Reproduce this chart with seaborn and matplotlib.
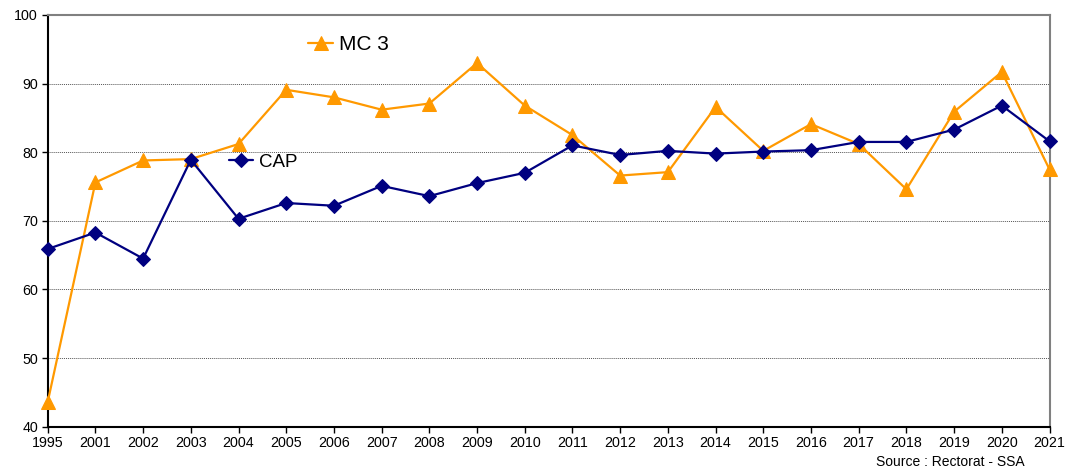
import numpy as np
import pandas as pd
import matplotlib
matplotlib.use('Agg')
import matplotlib.pyplot as plt
import seaborn as sns

# data
years = ['1995', '2001', '2002', '2003', '2004', '2005', '2006', '2007', '2008', '2009', '2010',
         '2011', '2012', '2013', '2014', '2015', '2016', '2017', '2018', '2019', '2020', '2021']
cap = [65.9, 68.3, 64.5, 78.9, 70.3, 72.6, 72.2, 75.1, 73.6, 75.5, 77.0,
       81.0, 79.6, 80.2, 79.8, 80.1, 80.3, 81.5, 81.5, 83.3, 86.8, 81.6]
mc3 = [43.6, 75.6, 78.8, 79.0, 81.2, 89.1, 88.0, 86.2, 87.1, 93.0, 86.8,
       82.5, 76.6, 77.1, 86.6, 80.2, 84.1, 81.2, 74.6, 85.9, 91.7, 77.5]
yticks = [40, 50, 60, 70, 80, 90, 100]

df = pd.DataFrame({'pos': np.arange(len(years)), 'CAP': cap, 'MC 3': mc3})

sns.set_style('white')
plt.rcParams['font.family'] = ['Liberation Sans', 'DejaVu Sans']
plt.rcParams['text.color'] = 'black'

fig = plt.figure(figsize=(10.65, 4.68), dpi=100)
ax = fig.add_axes([47.7 / 1065, 1 - 426.7 / 468, (1049.5 - 47.7) / 1065, (426.7 - 15) / 468])

sns.lineplot(data=df, x='pos', y='MC 3', ax=ax, color='#FF9900', lw=1.6,
             marker='^', markersize=10.5, markeredgecolor='#FF9900', label='MC 3', clip_on=False)
sns.lineplot(data=df, x='pos', y='CAP', ax=ax, color='#000080', lw=1.6,
             marker='D', markersize=7.5, markeredgecolor='#000080', label='CAP', clip_on=False)
line_mc, line_cap = ax.get_lines()[0], ax.get_lines()[1]
line_mc.set_zorder(3)
line_cap.set_zorder(4)

ax.set_xlim(0, len(years) - 1)
ax.set_ylim(40, 100)
ax.set_xticks(df['pos'])
ax.set_xticklabels(years)
ax.set_yticks(yticks)
ax.set_xlabel('')
ax.set_ylabel('')
ax.tick_params(axis='both', labelsize=10.3, length=4, width=1, direction='out',
               bottom=True, left=True, colors='black', labelcolor='black', pad=3)

for y in yticks[1:-1]:
    ax.axhline(y, color='#555555', lw=0.7, ls=(0, (1, 1)), zorder=0)

for side in ['left', 'bottom']:
    ax.spines[side].set_color('black')
    ax.spines[side].set_linewidth(1.5)
for side in ['top', 'right']:
    ax.spines[side].set_color('#808080')
    ax.spines[side].set_linewidth(1.5)

# series labels placed inside the plot, as in the original
ax.get_legend().remove()
leg1 = ax.legend([line_mc], ['MC 3'], loc='center left', frameon=False,
                 bbox_to_anchor=(308 / 1065, 1 - 45 / 468), bbox_transform=fig.transFigure,
                 fontsize=15, handlelength=1.2, handletextpad=0.3, borderpad=0, borderaxespad=0,
                 labelcolor='black')
ax.add_artist(leg1)
ax.legend([line_cap], ['CAP'], loc='center left', frameon=False,
          bbox_to_anchor=(229 / 1065, 1 - 162 / 468), bbox_transform=fig.transFigure,
          fontsize=13.5, handlelength=1.3, handletextpad=0.3, borderpad=0, borderaxespad=0,
          labelcolor='black')

fig.text(1025 / 1065, 1 - 462 / 468, 'Source : Rectorat - SSA', ha='right', va='center',
         fontsize=10, color='black')

plt.savefig('out.png', dpi=100)
